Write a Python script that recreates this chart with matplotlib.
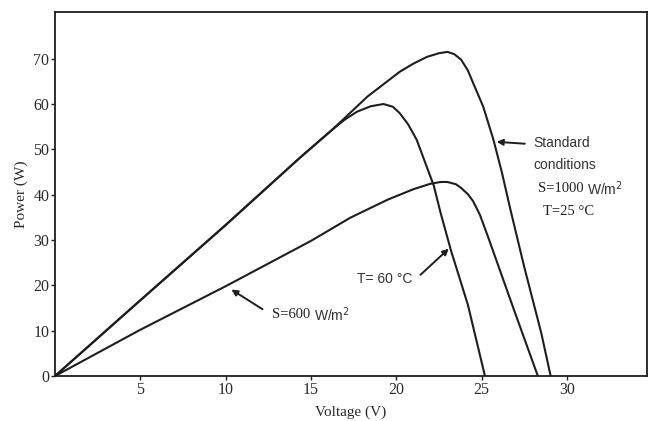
import numpy as np
import matplotlib.pyplot as plt

# curves (voltage V, power W)
v_std = [0, 5, 10, 14.4, 16.3, 18.3, 20.2, 21.0, 21.8, 22.5, 23.0, 23.4, 23.8, 24.2, 24.5, 25.1, 25.7, 26.2, 26.7, 27.5, 28.5, 29.05]
p_std = [0, 16.7, 33.3, 48.3, 54.5, 61.6, 67.1, 68.9, 70.4, 71.2, 71.5, 71.0, 69.8, 67.4, 64.7, 59.4, 52.1, 44.8, 36.6, 24.1, 9.5, 0]

v_t60 = [0, 5, 10, 14.4, 16.3, 17.0, 17.7, 18.5, 19.25, 19.8, 20.2, 20.7, 21.2, 22.2, 22.6, 23.2, 24.2, 25.2]
p_t60 = [0, 16.7, 33.3, 48.3, 54.5, 56.6, 58.3, 59.5, 60.0, 59.4, 58.0, 55.5, 52.1, 42.0, 36.0, 27.8, 15.7, 0]

v_s600 = [0, 5, 10, 15, 17.3, 19.5, 21.0, 22.0, 22.6, 23.0, 23.5, 23.8, 24.2, 24.5, 24.9, 25.4, 26.9, 28.3]
p_s600 = [0, 10.2, 19.8, 29.8, 34.9, 38.9, 41.2, 42.4, 42.8, 42.8, 42.3, 41.5, 40.1, 38.6, 35.6, 30.5, 14.6, 0]

x_ticks = [5, 10, 15, 20, 25, 30]
y_ticks = [0, 10, 20, 30, 40, 50, 60, 70]

serif = 'Liberation Serif'
sans = 'Liberation Sans'
ink = '#1e1e1e'

fig = plt.figure(figsize=(6.48, 4.21), dpi=100)
ax = fig.add_axes([0.0849, 0.1069, 0.9136, 0.8646])

for v, p in [(v_std, p_std), (v_t60, p_t60), (v_s600, p_s600)]:
    ax.plot(v, p, color=ink, lw=1.5, solid_joinstyle='round')

ax.set_xlim(0, 34.7)
ax.set_ylim(0, 80.3)
ax.set_xticks(x_ticks)
ax.set_yticks(y_ticks)
for lab in ax.get_xticklabels() + ax.get_yticklabels():
    lab.set_family(serif)
    lab.set_fontsize(11.5)
    lab.set_color('#2a2a2a')
ax.tick_params(length=3, width=1, color=ink, pad=1)
for s in ax.spines.values():
    s.set_color(ink)
    s.set_linewidth(1.3)

ax.set_xlabel('Voltage (V)', family=serif, fontsize=11, color='#2a2a2a', labelpad=6)
ax.set_ylabel('Power (W)', family=serif, fontsize=11, color='#2a2a2a', labelpad=4)

arrow = dict(arrowstyle='-|>', color=ink, lw=1.4, mutation_scale=9)

# standard conditions
ax.annotate('', xy=(25.72, 51.7), xytext=(27.7, 51.2), arrowprops=arrow)
ax.text(28.05, 51.4, 'Standard', family=sans, fontsize=10, color='#333333', va='center')
ax.text(28.05, 46.6, 'conditions', family=sans, fontsize=10, color='#333333', va='center')
t1 = ax.text(28.3, 41.4, 'S=1000 ', family=serif, fontsize=10.5, color='#222222', va='center')
ax.annotate('W/m$^2$', xy=(1, 0.5), xycoords=t1, va='center', ha='left',
            family=sans, fontsize=10, color='#333333')
ax.text(28.6, 36.2, 'T=25 °C', family=serif, fontsize=10.5, color='#222222', va='center')

# T = 60
ax.annotate('', xy=(23.2, 28.5), xytext=(21.3, 21.9), arrowprops=arrow)
ax.text(17.7, 21.4, 'T= 60 °C', family=sans, fontsize=10, color='#333333', va='center')

# S = 600
ax.annotate('', xy=(10.2, 19.4), xytext=(12.3, 14.4), arrowprops=arrow)
t2 = ax.text(12.7, 13.5, 'S=600 ', family=serif, fontsize=10.5, color='#222222', va='center')
ax.annotate('W/m$^2$', xy=(1, 0.5), xycoords=t2, va='center', ha='left',
            family=sans, fontsize=10, color='#333333')

fig.savefig('out.png', dpi=100)
